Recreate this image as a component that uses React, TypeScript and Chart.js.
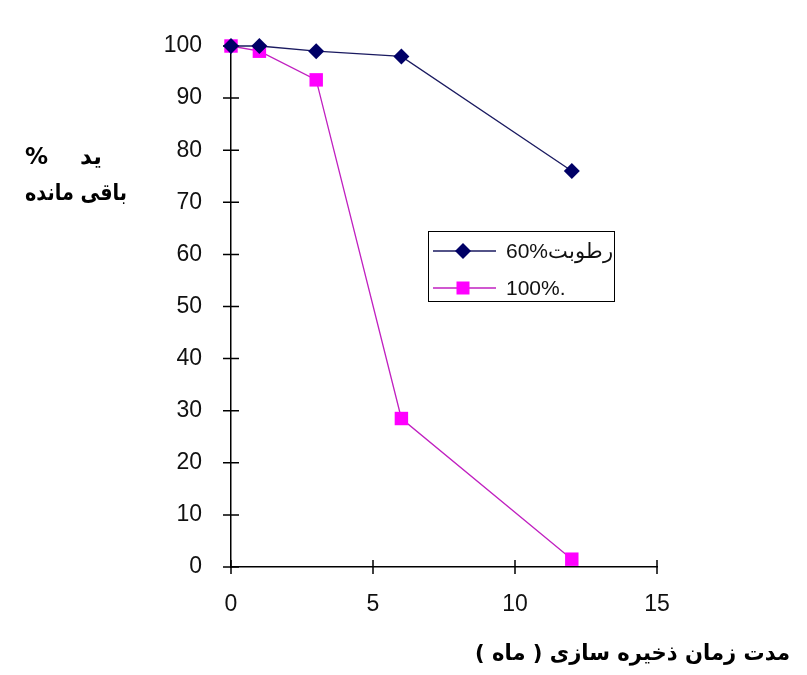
import React, { useEffect, useRef } from "react";
import { Chart, registerables } from "chart.js";

Chart.register(...registerables);

// ---- data ----
const months = [0, 1, 3, 6, 12];
const humidity60 = [100, 100, 99, 98, 76];
const humidity100 = [100, 99, 93.5, 28.5, 1.5];
const seriesLabels = ["60%رطوبت", "100%."];
const seriesColors = ["#000066", "#ff00ff"];
const lineColors = ["#1a1a60", "#c020c0"];
const xTickValues = [0, 5, 10, 15];
const yTickValues = [0, 10, 20, 30, 40, 50, 60, 70, 80, 90, 100];
const yTitleLeft = "%";
const yTitleRight = "ید";
const yTitleLine2 = "باقی مانده";
const xTitle = "مدت زمان ذخیره سازی ( ماه )";

const TICK_FONT = "'Liberation Sans', Arial, sans-serif";
const AR_FONT = "'DejaVu Sans', 'Liberation Sans', sans-serif";

function fillFitted(ctx: CanvasRenderingContext2D, text: string, right: number, base: number, width: number) {
  const w = ctx.measureText(text).width;
  const k = Math.min(1, width / w);
  ctx.save();
  ctx.translate(right, base);
  ctx.scale(k, 1);
  ctx.fillText(text, 0, 0);
  ctx.restore();
}

const decorPlugin = {
  id: "decor",
  beforeDatasetsDraw(chart: any) {
    const { ctx, scales } = chart;
    const x = scales.x;
    const y = scales.y;
    ctx.save();
    ctx.strokeStyle = "#000";
    ctx.lineWidth = 1.5;
    ctx.beginPath();
    y.ticks.forEach((t: any) => {
      const py = y.getPixelForValue(t.value);
      ctx.moveTo(x.left - 8, py);
      ctx.lineTo(x.left + 8, py);
    });
    x.ticks.forEach((t: any) => {
      const px = x.getPixelForValue(t.value);
      ctx.moveTo(px, y.bottom - 7);
      ctx.lineTo(px, y.bottom + 7);
    });
    ctx.stroke();
    ctx.restore();
  },
  afterDraw(chart: any) {
    const { ctx } = chart;
    ctx.save();
    // legend box
    const lx = 428, ly = 231, lw = 186, lh = 70;
    ctx.fillStyle = "#fff";
    ctx.fillRect(lx, ly, lw, lh);
    ctx.strokeStyle = "#000";
    ctx.lineWidth = 1;
    ctx.strokeRect(lx + 0.5, ly + 0.5, lw, lh);
    const rows = [251, 288];
    chart.data.datasets.forEach((ds: any, i: number) => {
      const ry = rows[i];
      ctx.strokeStyle = ds.borderColor;
      ctx.lineWidth = 1.5;
      ctx.beginPath();
      ctx.moveTo(433, ry);
      ctx.lineTo(496, ry);
      ctx.stroke();
      ctx.fillStyle = ds.pointBackgroundColor;
      ctx.beginPath();
      if (ds.pointStyle === "rectRot") {
        const r = 8;
        ctx.moveTo(463, ry - r);
        ctx.lineTo(463 + r, ry);
        ctx.lineTo(463, ry + r);
        ctx.lineTo(463 - r, ry);
        ctx.closePath();
      } else {
        ctx.rect(463 - 6.5, ry - 6.5, 13, 13);
      }
      ctx.fill();
      ctx.fillStyle = "#111";
      ctx.font = `21px ${TICK_FONT}`;
      ctx.textAlign = "left";
      ctx.textBaseline = "middle";
      ctx.direction = "ltr";
      ctx.fillText(ds.label, 506, ry + 1);
    });

    // y title
    ctx.fillStyle = "#000";
    ctx.font = `bold 23px ${AR_FONT}`;
    ctx.textBaseline = "alphabetic";
    ctx.direction = "ltr";
    ctx.textAlign = "left";
    ctx.fillText(yTitleLeft, 25, 164);
    ctx.direction = "rtl";
    ctx.textAlign = "right";
    ctx.fillText(yTitleRight, 102, 164);
    fillFitted(ctx, yTitleLine2, 127, 200, 102);

    // x title
    ctx.font = `bold 22px ${AR_FONT}`;
    ctx.direction = "rtl";
    ctx.textAlign = "right";
    fillFitted(ctx, xTitle, 790, 660, 315);
    ctx.restore();
  },
};

export default function App() {
  const canvasRef = useRef<HTMLCanvasElement | null>(null);

  useEffect(() => {
    const canvas = canvasRef.current;
    if (!canvas) return;
    const chart = new Chart(canvas, {
      type: "line",
      data: {
        datasets: [
          {
            label: seriesLabels[0],
            data: months.map((m, i) => ({ x: m, y: humidity60[i] })),
            borderColor: lineColors[0],
            borderWidth: 1.3,
            pointStyle: "rectRot",
            pointRadius: 8,
            pointBackgroundColor: seriesColors[0],
            pointBorderColor: seriesColors[0],
            pointBorderWidth: 0,
            clip: false,
          },
          {
            label: seriesLabels[1],
            data: months.map((m, i) => ({ x: m, y: humidity100[i] })),
            borderColor: lineColors[1],
            borderWidth: 1.3,
            pointStyle: "rect",
            pointRadius: 9.5,
            pointBackgroundColor: seriesColors[1],
            pointBorderColor: seriesColors[1],
            pointBorderWidth: 0,
            clip: false,
          },
        ],
      },
      options: {
        animation: false,
        responsive: true,
        maintainAspectRatio: false,
        layout: { padding: { left: 0, top: 46, right: 150, bottom: 0 } },
        plugins: {
          legend: { display: false },
          tooltip: { enabled: false },
        },
        scales: {
          x: {
            type: "linear",
            min: 0,
            max: 15,
            afterFit: (s: any) => {
              s.height = 108;
            },
            afterBuildTicks: (s: any) => {
              s.ticks = xTickValues.map((v) => ({ value: v }));
            },
            grid: { display: false, drawTicks: false },
            border: { display: true, color: "#000", width: 1.5 },
            ticks: {
              padding: 24,
              color: "#111",
              font: { family: TICK_FONT, size: 23 },
            },
          },
          y: {
            type: "linear",
            min: 0,
            max: 100,
            afterFit: (s: any) => {
              s.width = 231;
            },
            afterBuildTicks: (s: any) => {
              s.ticks = yTickValues.map((v) => ({ value: v }));
            },
            grid: { display: false, drawTicks: false },
            border: { display: true, color: "#000", width: 1.5 },
            ticks: {
              padding: 29,
              color: "#111",
              font: { family: TICK_FONT, size: 23 },
            },
          },
        },
      },
      plugins: [decorPlugin],
    });
    return () => chart.destroy();
  }, []);

  return (
    <div
      style={{
        position: "absolute",
        left: 0,
        top: 0,
        width: 807,
        height: 675,
        background: "#fff",
      }}
    >
      <canvas ref={canvasRef} />
    </div>
  );
}
